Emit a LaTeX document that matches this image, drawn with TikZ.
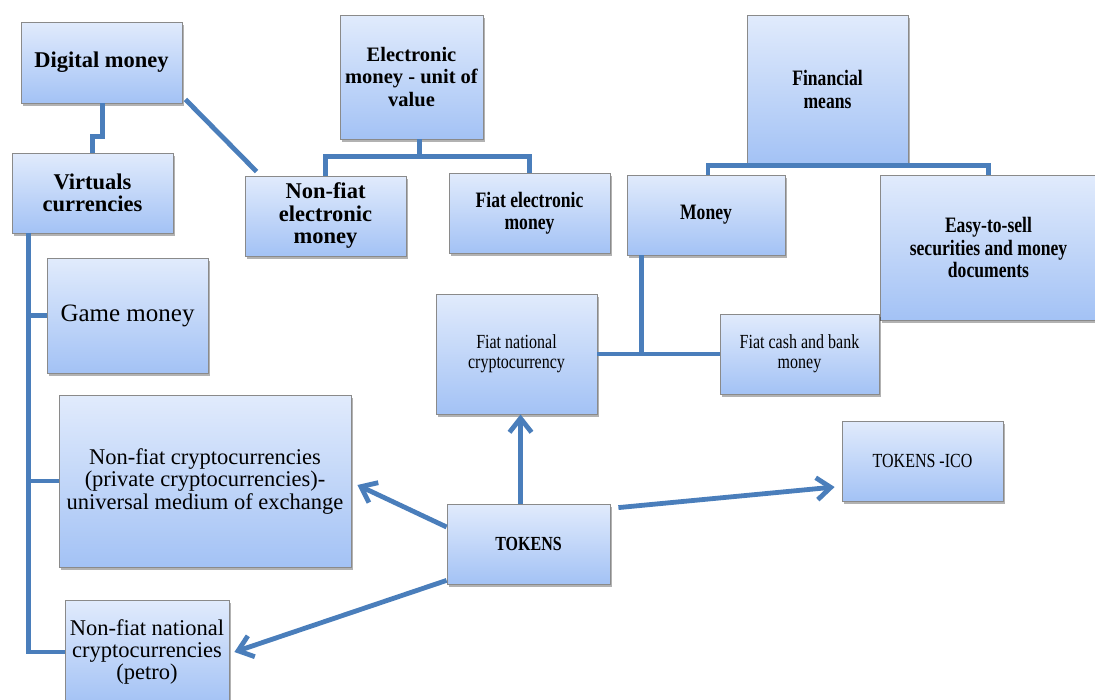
\documentclass[tikz,border=0pt]{standalone}
\usepackage{fontspec}
\setmainfont{Liberation Serif}
\newfontfamily\narrowserif[FakeStretch=0.8]{Liberation Serif}
\usetikzlibrary{arrows.meta,shadows}

\definecolor{linkblue}{HTML}{4A7EBB}
\definecolor{boxtop}{HTML}{E1EBFC}
\definecolor{boxbot}{HTML}{A3C2F5}
\definecolor{boxline}{HTML}{8A8A8A}

\begin{document}
\begin{tikzpicture}[x=1pt, y=1pt, >={Straight Barb[length=14pt,width=22pt]},
	box/.style={draw=boxline, line width=0.8pt, top color=boxtop, bottom color=boxbot,
		align=center, inner sep=2pt,
		drop shadow={shadow xshift=2pt, shadow yshift=-2.5pt, opacity=0.3, fill=black}},
	link/.style={draw=linkblue, line width=4.8pt},
	arr/.style={link, ->},
	fbig/.style={font=\fontsize{22.5}{22.5}\selectfont\bfseries},
	fmid/.style={font=\narrowserif\fontsize{22}{22.5}\selectfont\bfseries},
	freg/.style={font=\fontsize{22.5}{22.5}\selectfont},
	fsmall/.style={font=\narrowserif\fontsize{20}{20}\selectfont}]
	
	\useasboundingbox (0,0) rectangle (1095,-699);
	
	% --- LEFT: DIGITAL MONEY ---
	\node[box, fbig, minimum width=161, minimum height=81] (dig) at (101.5,-62.5) {Digital money};
	\node[box, fbig, minimum width=161, minimum height=80] (virt) at (92.5,-193) {Virtuals\\currencies};
	\node[box, font=\fontsize{25}{25}\selectfont, minimum width=161, minimum height=115] (game) at (127.5,-315.5) {Game money};
	\node[box, freg, minimum width=292, minimum height=172] (nfc) at (205,-481) {Non-fiat cryptocurrencies\\(private cryptocurrencies)-\\universal medium of exchange};
	\node[box, freg, font=\fontsize{22.5}{22}\selectfont, minimum width=164, minimum height=104] (petro) at (147,-652) {Non-fiat national\\cryptocurrencies\\(petro)};
	
	% --- MIDDLE: ELECTRONIC MONEY ---
	\node[box, fbig, font=\fontsize{20.5}{22.5}\selectfont\bfseries, minimum width=143, minimum height=124] (emoney) at (411.5,-77) {Electronic\\money - unit of\\value};
	\node[box, fbig, minimum width=161, minimum height=80] (nfem) at (325.5,-216) {Non-fiat\\electronic\\money};
	\node[box, fmid, minimum width=161, minimum height=80] (fem) at (529.5,-213) {Fiat electronic\\money};
	
	% --- RIGHT: FINANCIAL MEANS ---
	\node[box, fmid, minimum width=161, minimum height=149] (fin) at (827.5,-89.5) {Financial\\means};
	\node[box, fmid, minimum width=158, minimum height=80] (money) at (706,-215) {Money};
	\node[box, fmid, minimum width=217, minimum height=145] (easy) at (988.5,-247.5) {Easy-to-sell\\securities and money\\documents};
	\node[box, fsmall, minimum width=159, minimum height=80] (fcash) at (799.5,-354) {Fiat cash and bank\\money};
	\node[box, fsmall, minimum width=161, minimum height=120] (fnat) at (516.5,-354) {Fiat national\\cryptocurrency};
	
	% --- TOKENS ---
	\node[box, fmid, font=\narrowserif\fontsize{20}{20}\selectfont\bfseries, minimum width=163, minimum height=80] (tok) at (528.5,-544) {TOKENS};
	\node[box, fsmall, minimum width=161, minimum height=80] (ico) at (922.5,-461) {TOKENS -ICO};
	
	% --- CONEXIONES ---
	\draw[link] ([xshift=1]dig.south) -- ++(0,-33) -| (virt.north);
	\draw[link] ([shift={(3,4)}]dig.south east) -- ([shift={(12,4)}]nfem.north west);
	\draw[link] ([xshift=8]emoney.south) -- ++(0,-17);
	\draw[link] (nfem.north) |- ([shift={(8,-17)}]emoney.south) -| (fem.north);
	\draw[link] ([xshift=2]money.north) |- ([yshift=-1]fin.south) -| (easy.north);
	
	\coordinate (spine) at ([xshift=17]virt.south west);
	\draw[link] (spine) |- (game.west);
	\draw[link] (spine) |- (nfc.west);
	\draw[link] (spine) |- (petro.west);
	
	\coordinate (drop) at ([xshift=15]money.south west);
	\draw[link] (drop) -- (drop |- fcash.west);
	\draw[link] (fnat.east) -- (fcash.west);
	
	% --- FLECHAS DESDE TOKENS ---
	\draw[arr] ([xshift=-8]tok.north) -- ([xshift=-8]tok.north |- fnat.south);
	\draw[arr] ([yshift=17]tok.west) -- ([shift={(6,-4)}]nfc.east);
	\draw[arr] ([yshift=4]tok.south west) -- ([xshift=5]petro.east);
	\draw[arr] ([shift={(8,-4)}]tok.north east) -- ([shift={(-7,-26)}]ico.west);
	
\end{tikzpicture}
\end{document}
